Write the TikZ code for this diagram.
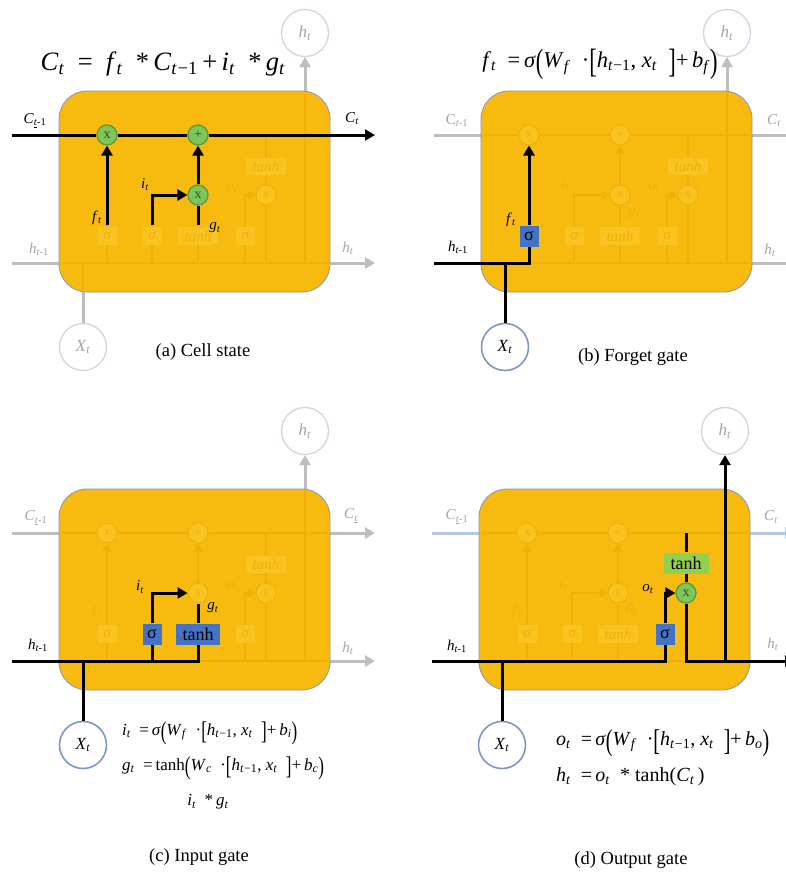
\documentclass[tikz,border=0pt]{standalone}
\usepackage{fontspec}
\setmainfont{Liberation Serif}
\usepackage{graphicx}
\usetikzlibrary{arrows.meta}
\definecolor{boxc}{RGB}{247,187,15}
\definecolor{boxedge}{RGB}{140,150,170}
\definecolor{flinec}{RGB}{238,177,10}
\definecolor{ffill}{RGB}{249,195,34}
\definecolor{ftext}{RGB}{238,176,10}
\definecolor{gline}{RGB}{190,190,190}
\definecolor{gtext}{RGB}{165,165,165}
\definecolor{bline}{RGB}{184,200,222}
\definecolor{lcirc}{RGB}{205,214,230}
\definecolor{xcirc}{RGB}{125,150,200}
\definecolor{gfill}{RGB}{125,198,90}
\definecolor{gedge}{RGB}{90,150,70}
\definecolor{bluebox}{RGB}{68,114,196}
\definecolor{greenbox}{RGB}{146,208,80}
\newcommand{\vi}[2]{\textit{#1}\textsubscript{\textit{#2}}}
\newcommand{\vm}[1]{\textit{#1}\textsubscript{\textit{t}\kern0.04em−1}}
\newcommand{\vmh}[1]{\textit{#1}\textsubscript{\textit{t}-1}}
\newcommand{\vmr}[1]{#1\textsubscript{\textit{t}-1}}
\newcommand{\vu}[1]{\textit{#1}\textsubscript{\underline{\textit{t}}-1}}
\newcommand{\vuu}[1]{\textit{#1}\textsubscript{\underline{\textit{t}}}}
\newcommand{\BP}[1]{\raisebox{-0.22em}{\scalebox{1}[1.5]{#1}}}
% default texts of the faint skeleton (redefined locally where covered)
\newcommand{\Tca}{x}\newcommand{\Tcb}{+}\newcommand{\Tcc}{x}\newcommand{\Tcd}{x}
\newcommand{\Tsa}{σ}\newcommand{\Tsb}{σ}\newcommand{\Tsc}{σ}
\newcommand{\Tta}{tanh}\newcommand{\Ttb}{tanh}
\newcommand{\faintskel}[1]{%
  \node[fcirc] (#1c1) at (107,135) {\Tca};
  \node[fcirc] (#1c2) at (198,135) {\Tcb};
  \node[fcirc] (#1c3) at (198,195) {\Tcc};
  \node[fcirc] (#1c4) at (266,195) {\Tcd};
  \node[fgate] (#1s1) at (107,236) {\Tsa};
  \node[fgate] (#1s2) at (152,236) {\Tsb};
  \node[fgate, minimum width=40pt] (#1t1) at (198,236) {\Tta};
  \node[fgate] (#1s3) at (245,236) {\Tsc};
  \node[fgate, minimum width=40pt, minimum height=17pt] (#1t2) at (266,166) {\Ttb};
  \coordinate (#1il) at (62,135);
  \coordinate (#1ir) at (328,135);
  \coordinate (#1hl) at (62,263);
  \coordinate (#1hr) at (328,263);
  \coordinate (#1xj) at (83,263);
  \coordinate (#1xb) at (83,290);
  \coordinate (#1oj) at (305,263);
  \coordinate (#1ot) at (305,93);
  \draw[faintline] (#1il) -- (#1c1) -- (#1c2) -- (#1ir);
  \draw[faintline] (#1hl) -- (#1hr);
  \draw[faintline] (#1xj) -- (#1xb);
  \draw[faintline] (#1oj) -- (#1ot);
  \draw[faintline] (#1s1) -- (#1s1 |- #1hl);
  \draw[faintline] (#1s2) -- (#1s2 |- #1hl);
  \draw[faintline] (#1t1) -- (#1t1 |- #1hl);
  \draw[faintline] (#1s3) -- (#1s3 |- #1hl);
  \draw[faintline, ftip] (#1s1) -- (#1c1);
  \draw[faintline, ftip] (#1s2) |- (#1c3);
  \draw[faintline] (#1t1) -- (#1c3);
  \draw[faintline, ftip] (#1c3) -- (#1c2);
  \draw[faintline, ftip] (#1s3) |- (#1c4);
  \draw[faintline] (#1t2 |- #1il) -- (#1t2);
  \draw[faintline] (#1t2) -- (#1c4);
  \draw[faintline] (#1c4) -- (#1c4 |- #1hl);
}
\begin{document}
\begin{tikzpicture}[x=1pt,y=-1pt,
 blkline/.style={line width=3pt, draw=black},
 grayline/.style={line width=3pt, draw=gline},
 bluline/.style={line width=3pt, draw=bline},
 faintline/.style={line width=2pt, draw=flinec},
 tipend/.style={-{Triangle[length=10pt,width=11pt]}},
 ftip/.style={-{Triangle[length=8pt,width=9pt]}},
 fcirc/.style={circle, minimum size=20pt, inner sep=0pt, fill=ffill, draw=flinec, line width=1pt, text=ftext, font=\fontsize{12}{12}\selectfont},
 gcirc/.style={circle, minimum size=20pt, inner sep=0pt, fill=gfill, draw=gedge, line width=1.2pt, text=black!75, font=\fontsize{14}{14}\selectfont},
 fgate/.style={rectangle, minimum width=19pt, minimum height=18pt, inner sep=0pt, fill=ffill, text=ftext, font=\itshape\fontsize{15}{15}\selectfont},
 bgate/.style={rectangle, minimum width=19pt, minimum height=21pt, inner sep=0pt, fill=bluebox, text=black, font=\fontsize{18}{18}\selectfont},
 cellbox/.style={rectangle, rounded corners=28pt, minimum width=271pt, minimum height=201pt, fill=boxc, draw=boxedge, line width=0.8pt},
 lightcirc/.style={circle, minimum size=47pt, inner sep=0pt, fill=white, draw=lcirc, line width=1.3pt, text=gtext, font=\fontsize{17}{17}\selectfont},
 xincirc/.style={lightcirc, draw=xcirc, text=black, line width=1.6pt},
 lbl/.style={inner sep=0pt, font=\fontsize{15}{15}\selectfont},
 glbl/.style={lbl, text=gtext},
 flbl/.style={lbl, text=ftext},
 captxt/.style={inner sep=0pt, font=\fontsize{18.5}{19}\selectfont},
 eqn/.style={inner sep=0pt}
]
\useasboundingbox[fill=white] (0,0) rectangle (786,872);

% ================= panel (a) =================
\begin{scope}
 \renewcommand{\Tca}{}\renewcommand{\Tcb}{}\renewcommand{\Tcc}{}
 \node[lightcirc] (aX) at (83,347) {\vi{X}{t}};
 \node[lightcirc] (aH) at (305,33) {\vi{h}{t}};
 \coordinate (ahL) at (12,263);
 \coordinate (ahR) at (375,263);
 \draw[grayline,tipend] (ahL) -- (ahR);
 \draw[grayline] (aX) -- (aX |- ahL);
 \draw[grayline,tipend] (aH |- ahL) -- (aH);
 \node[cellbox] (abox) at (194.5,191.5) {};
 \faintskel{a}
 \node[flbl] (aot) at (232,188) {\vi{o}{t}};
 \node[gcirc] (am1) at (107,135) {x};
 \node[gcirc] (ap) at (198,135) {+};
 \node[gcirc] (am2) at (198,195) {x};
 \coordinate (aCL) at (12,135);
 \coordinate (aCR) at (375,135);
 \coordinate (af0) at (107,225);
 \coordinate (ai0) at (152,225);
 \coordinate (ag0) at (198,225);
 \draw[blkline,tipend] (aCL) -- (am1) -- (ap) -- (aCR);
 \draw[blkline,tipend] (af0) -- (am1);
 \draw[blkline,tipend] (ai0) |- (am2);
 \draw[blkline] (ag0) -- (am2);
 \draw[blkline,tipend] (am2) -- (ap);
 \node[lbl] (aCl) at (35,121) {\vu{C}};
 \node[lbl] (aCr) at (352,119) {\vi{C}{t}};
 \node[glbl] (ahl) at (39,249) {\vmh{h}};
 \node[glbl] (ahr) at (348,248) {\vi{h}{t}};
 \node[lbl] (aft) at (97,218) {\vi{f}{t}};
 \node[lbl] (ait) at (145,185) {\vi{i}{t}};
 \node[lbl] (agt) at (215,228) {\vi{g}{t}};
 \node[eqn, font=\fontsize{26.5}{28}\selectfont] (aeq) at (163,64)
   {\vi{C}{t}\enspace=\enspace\vi{f}{t}\enspace*\,\vm{C}\,+\,\vi{i}{t}\enspace*\,\vi{g}{t}};
 \node[captxt] (acap) at (203,352) {(a) Cell state};
\end{scope}

% ================= panel (b) =================
\begin{scope}[shift={(422,0)}]
 \renewcommand{\Tsa}{}
 \node[xincirc] (bX) at (83,347) {\vi{X}{t}};
 \node[lightcirc] (bH) at (305,33) {\vi{h}{t}};
 \coordinate (bCL) at (12,135);
 \coordinate (bCR) at (375,135);
 \coordinate (bhL) at (12,263);
 \coordinate (bhR) at (375,263);
 \draw[grayline,tipend] (bCL) -- (bCR);
 \draw[grayline,tipend] (bhL) -- (bhR);
 \draw[grayline,tipend] (bH |- bhL) -- (bH);
 \node[cellbox] (bbox) at (194.5,191.5) {};
 \faintskel{b}
 \node[flbl] (bit) at (143,185) {\vi{i}{t}};
 \node[flbl] (bgt) at (212,213) {\vi{g}{t}};
 \node[flbl] (bot) at (232,188) {\vi{o}{t}};
 \node[bgate] (bsig) at (107,236) {σ};
 \draw[blkline] (bhL) -| (bsig);
 \draw[blkline,tipend] (bsig) -- (bc1);
 \draw[blkline] (bX) -- (bX |- bhL);
 \node[glbl] (bCl) at (35,121) {\vmr{C}};
 \node[glbl] (bCr) at (352,121) {\vi{C}{t}};
 \node[lbl] (bhl) at (36,247) {\vmh{h}};
 \node[glbl] (bhr) at (348,250) {\vi{h}{t}};
 \node[lbl] (bft) at (89,220) {\vi{f}{t}};
 \node[eqn, font=\fontsize{22.5}{24}\selectfont] (beq) at (178,64)
   {\vi{f}{t}\enspace=\,\textit{σ}\BP{(}\vi{W}{f}\enspace·\BP{[}\vm{h}, \vi{x}{t}\enspace\BP{]}+\,\vi{b}{f}\BP{)}};
 \node[captxt] (bcap) at (211,357) {(b) Forget gate};
\end{scope}

% ================= panel (c) =================
\begin{scope}[shift={(0,398)}]
 \renewcommand{\Tsb}{}\renewcommand{\Tta}{}
 \node[xincirc] (cX) at (83,347) {\vi{X}{t}};
 \node[lightcirc] (cH) at (305,33) {\vi{h}{t}};
 \coordinate (cCL) at (12,135);
 \coordinate (cCR) at (375,135);
 \coordinate (chL) at (12,263);
 \coordinate (chR) at (375,263);
 \draw[grayline,tipend] (cCL) -- (cCR);
 \draw[grayline,tipend] (chL) -- (chR);
 \draw[grayline,tipend] (cH |- chL) -- (cH);
 \node[cellbox] (cbox) at (194.5,191.5) {};
 \faintskel{c}
 \node[flbl] (cft) at (97,214) {\vi{f}{t}};
 \node[flbl] (cot) at (232,188) {\vi{o}{t}};
 \node[bgate] (csig) at (152,236) {σ};
 \node[bgate, minimum width=44pt] (ctanh) at (198,236) {tanh};
 \draw[blkline] (chL) -| (ctanh);
 \draw[blkline] (csig) -- (csig |- chL);
 \draw[blkline,tipend] (csig) |- (cc3);
 \draw[blkline] (ctanh) -- (cc3);
 \draw[blkline] (cX) -- (cX |- chL);
 \node[glbl] (cCl) at (36,120) {\vu{C}};
 \node[glbl] (cCr) at (351,118) {\vuu{C}};
 \node[lbl] (chl) at (38,247) {\vmh{h}};
 \node[glbl] (chr) at (348,250) {\vi{h}{t}};
 \node[lbl] (cit) at (140,189) {\vi{i}{t}};
 \node[lbl] (cgt) at (213,210) {\vi{g}{t}};
 \node[eqn, anchor=west, font=\fontsize{17}{18}\selectfont] (ceq1) at (122,335)
   {\vi{i}{t}\enspace=\,\textit{σ}\BP{(}\vi{W}{f}\enspace·\BP{[}\vm{h}, \vi{x}{t}\enspace\BP{]}+\,\vi{b}{i}\BP{)}};
 \node[eqn, anchor=west, font=\fontsize{17}{18}\selectfont] (ceq2) at (122,370)
   {\vi{g}{t}\enspace=\,tanh\BP{(}\vi{W}{c}\enspace·\BP{[}\vm{h}, \vi{x}{t}\enspace\BP{]}+\,\vi{b}{c}\BP{)}};
 \node[eqn, font=\fontsize{17}{18}\selectfont] (ceq3) at (208,404)
   {\vi{i}{t}\enspace*\,\vi{g}{t}};
 \node[captxt] (ccap) at (199,459) {(c) Input gate};
\end{scope}

% ================= panel (d) =================
\begin{scope}[shift={(420,398)}]
 \renewcommand{\Tsc}{}\renewcommand{\Ttb}{}\renewcommand{\Tcd}{}
 \node[xincirc] (dX) at (82,347) {\vi{X}{t}};
 \node[lightcirc] (dH) at (305,33) {\vi{h}{t}};
 \coordinate (dCL) at (12,135);
 \coordinate (dCR) at (375,135);
 \coordinate (dhL) at (12,263);
 \coordinate (dhR) at (375,263);
 \draw[bluline,tipend] (dCL) -- (dCR);
 \node[cellbox] (dbox) at (194.5,191.5) {};
 \faintskel{d}
 \node[flbl] (dft) at (97,214) {\vi{f}{t}};
 \node[flbl] (dit) at (143,187) {\vi{i}{t}};
 \node[flbl] (dgt) at (212,212) {\vi{g}{t}};
 \node[bgate] (dsig) at (245,236) {σ};
 \node[gcirc] (dm) at (266,195) {x};
 \node[rectangle, minimum width=45pt, minimum height=21pt, inner sep=0pt, fill=greenbox, font=\fontsize{18}{18}\selectfont] (dtanh) at (266,165) {tanh};
 \coordinate (dct) at (266,135);
 \draw[blkline] (dhL) -| (dsig);
 \draw[blkline,tipend] (dsig) |- (dm);
 \draw[blkline] (dct) -- (dtanh);
 \draw[blkline] (dtanh) -- (dm);
 \draw[blkline,tipend] (dm) |- (dhR);
 \draw[blkline,tipend] (dH |- dhL) -- (dH);
 \draw[blkline] (dX) -- (dX |- dhL);
 \node[glbl] (dCl) at (37,119) {\vu{C}};
 \node[glbl] (dCr) at (351,119) {\vi{C}{t}};
 \node[lbl] (dhl) at (37,248) {\vmh{h}};
 \node[glbl] (dhr) at (353,246) {\vi{h}{t}};
 \node[lbl] (dot) at (228,191) {\vi{o}{t}};
 \node[eqn, anchor=west, font=\fontsize{20}{21}\selectfont] (deq1) at (136,345)
   {\vi{o}{t}\enspace=\,\textit{σ}\BP{(}\vi{W}{f}\enspace·\BP{[}\vm{h}, \vi{x}{t}\enspace\BP{]}+\,\vi{b}{o}\BP{)}};
 \node[eqn, anchor=west, font=\fontsize{20}{21}\selectfont] (deq2) at (136,379)
   {\vi{h}{t}\enspace=\,\vi{o}{t}\enspace* tanh(\vi{C}{t}\,)};
 \node[captxt] (dcap) at (211,462) {(d) Output gate};
\end{scope}
\end{tikzpicture}
\end{document}
